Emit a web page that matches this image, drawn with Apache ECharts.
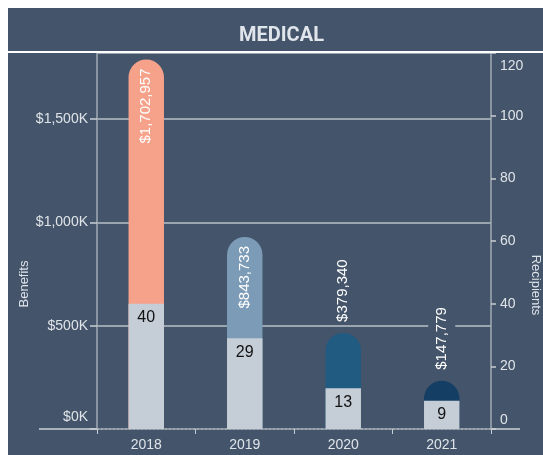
<!DOCTYPE html>
<html>
<head>
<meta charset="utf-8">
<script src="https://cdn.jsdelivr.net/npm/echarts@6/dist/echarts.min.js"></script>
<style>
html, body { margin: 0; padding: 0; background: #fff; }
#chart-medical { position: absolute; left: 8px; top: 8px; width: 535px; height: 447px; }
</style>
</head>
<body>
<div id="chart-medical"></div>
<script>
var years = ['2018', '2019', '2020', '2021'];
var benefits = [1702957, 843733, 379340, 147779];
var recipients = [40, 29, 13, 9];
var benefitColors = ['#f6a18a', '#7b9bb6', '#215b82', '#143e63'];

// axis ranges
var benefitMax = 1820000, benefitStep = 500000;
var recipientMax = 120, recipientStep = 20;

var bg = '#44546a';
var textColor = '#dfe4e9';
var font = 'Liberation Sans, Arial, sans-serif';

var chartMedical = echarts.init(document.getElementById('chart-medical'));

function money(v) {
    return '$' + echarts.format.addCommas(v);
}

// benefit bar: rect up to the value + round cap above it
function renderBenefit(params, api) {
    var i = api.value(0);
    var base = api.coord([i, 0]);
    var top = api.coord([i, api.value(1)]);
    var w = api.size([1, 0])[0] * 0.36;
    var r = w / 2;
    var capTop = top[1] - r;
    var txt = money(api.value(1));
    var inside = base[1] - top[1] > 120;
    var label;
    if (inside) {
        label = {
            type: 'text', x: base[0], y: capTop + 9, rotation: Math.PI / 2,
            style: { text: txt, fill: '#fff', font: '15px ' + font, align: 'right', verticalAlign: 'middle' }
        };
    } else {
        label = {
            type: 'text', x: base[0], y: capTop - 11, rotation: Math.PI / 2,
            style: { text: txt, fill: '#fff', font: '15px ' + font, align: 'left', verticalAlign: 'middle',
                backgroundColor: bg, padding: [6, 0, 6, 0] }
        };
    }
    return {
        type: 'group',
        children: [
            { type: 'rect', shape: { x: base[0] - r, y: capTop, width: w, height: base[1] - capTop, r: [r, r, 0, 0] },
              style: { fill: benefitColors[i] } },
            label
        ]
    };
}

var statMedical = {
    animation: false,
    backgroundColor: bg,
    title: {
        text: 'MEDICAL',
        left: 226,
        top: 13,
        textStyle: { color: '#dfe5ea', fontSize: 20, fontWeight: 'bold', fontFamily: 'Roboto' }
    },
    graphic: [
        { type: 'rect', shape: { x: 0, y: 43, width: 535, height: 2 }, style: { fill: '#ffffff' }, z: 100 },
        { type: 'line', shape: { x1: 31, y1: 421, x2: 89, y2: 421 }, style: { stroke: '#aab2ba', lineWidth: 2 } },
        { type: 'line', shape: { x1: 483, y1: 421, x2: 512, y2: 421 }, style: { stroke: '#aab2ba', lineWidth: 2 } }
    ],
    grid: { left: 89, right: 52, top: 45, bottom: 26, outerBoundsMode: 'none', containLabel: false },
    xAxis: {
        type: 'category',
        data: years,
        axisLine: { lineStyle: { color: '#9ea7b0', type: 'dotted', width: 2 } },
        axisTick: { show: true, length: 5, lineStyle: { color: '#c8ced4' } },
        axisLabel: { color: textColor, fontSize: 14, fontFamily: font, margin: 9 }
    },
    yAxis: [
        {
            type: 'value',
            min: 0, max: benefitMax, interval: benefitStep,
            name: 'Benefits', nameLocation: 'middle', nameGap: 66, nameRotate: 90, nameMoveOverlap: false,
            nameTextStyle: { color: textColor, fontSize: 13, fontFamily: font, padding: [0, 86, 0, 0] },
            axisLine: { show: true, lineStyle: { color: '#a3abb4', width: 1.5 } },
            axisTick: { show: true, length: 7, lineStyle: { color: '#c8ced4', width: 1.5 } },
            axisLabel: {
                color: textColor, fontSize: 14, fontFamily: font, margin: 9, showMaxLabel: false,
                formatter: function (v) {
                    var s = '$' + echarts.format.addCommas(v / 1000) + 'K';
                    return v === 0 ? '{low|' + s + '}' : s;
                },
                rich: { low: { color: textColor, fontSize: 14, fontFamily: font, padding: [0, 0, 24, 0] } }
            },
            splitLine: { show: true, showMinLine: false, lineStyle: { color: '#b9c0c7', width: 1.5 } }
        },
        {
            type: 'value',
            min: 0, max: recipientMax, interval: recipientStep,
            position: 'right',
            name: 'Recipients', nameLocation: 'middle', nameGap: 38, nameRotate: -90, nameMoveOverlap: false,
            nameTextStyle: { color: textColor, fontSize: 13, fontFamily: font, padding: [0, 0, 0, 88] },
            axisLine: { show: true, lineStyle: { color: '#a3abb4', width: 1.5 } },
            axisTick: { show: true, length: 5, lineStyle: { color: '#c8ced4', width: 1.5 } },
            axisLabel: {
                color: textColor, fontSize: 14, fontFamily: font, margin: 9,
                formatter: function (v) {
                    if (v === 0) return '{low|0}';
                    if (v === recipientMax) return '{high|' + v + '}';
                    return '' + v;
                },
                rich: {
                    low: { color: textColor, fontSize: 14, fontFamily: font, padding: [0, 0, 18, 0] },
                    high: { color: textColor, fontSize: 14, fontFamily: font, padding: [26, 0, 0, 0] }
                }
            },
            splitLine: { show: false }
        }
    ],
    series: [
        {
            name: 'Benefits',
            type: 'custom',
            yAxisIndex: 0,
            renderItem: renderBenefit,
            encode: { x: 0, y: 1 },
            data: benefits.map(function (v, i) { return [i, v]; })
        },
        {
            name: 'Recipients',
            type: 'bar',
            yAxisIndex: 1,
            barWidth: '36%',
            data: recipients,
            itemStyle: { color: '#c5cdd6' },
            label: { show: true, position: 'insideTop', distance: 6, color: '#111', fontSize: 16, fontFamily: font }
        }
    ]
};

chartMedical.setOption(statMedical);
</script>
</body>
</html>
